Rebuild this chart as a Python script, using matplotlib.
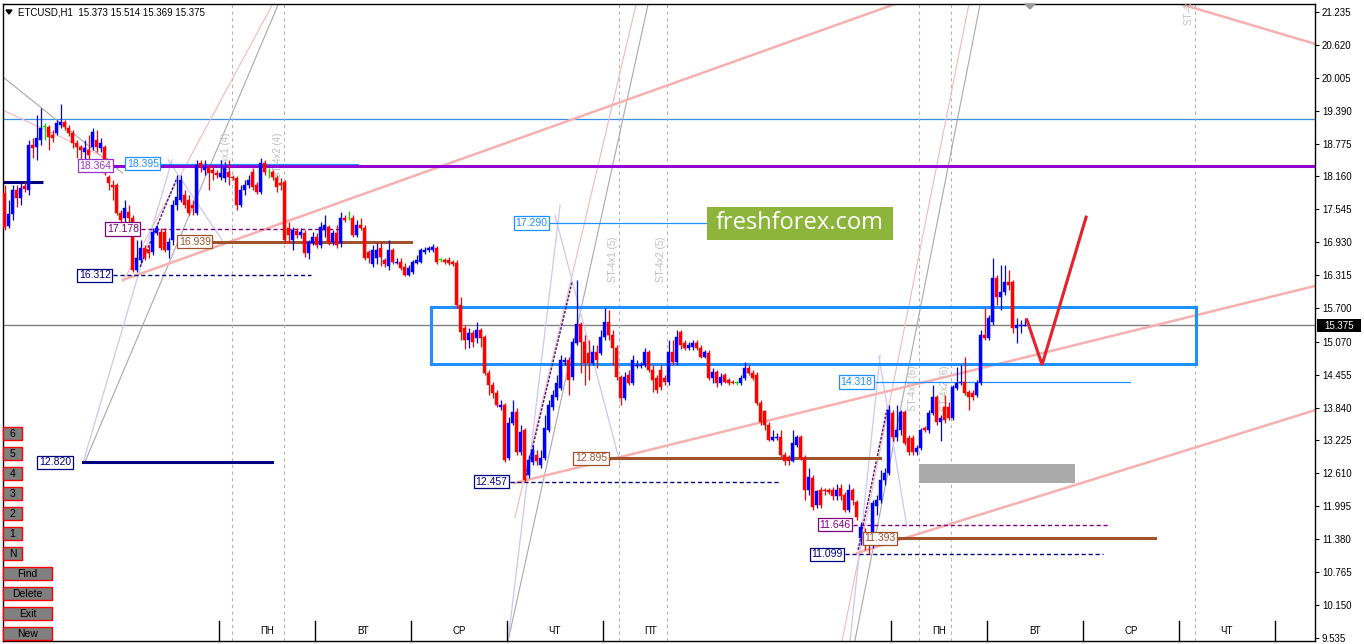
import numpy as np
import matplotlib
matplotlib.use("Agg")
import matplotlib.pyplot as plt
from matplotlib.patches import Rectangle, Polygon
import matplotlib.transforms as mtransforms

plt.rcParams['font.family'] = ['Liberation Sans', 'DejaVu Sans']

# ---- ETCUSD H1 bars ----
OPEN = [
    17.85, 17.24, 17.46, 17.91, 17.76, 17.98, 17.91, 18.75, 18.71, 18.84,
    19.09, 19.09, 18.93, 18.97, 19.12, 19.18, 19.07, 18.97, 18.78, 18.71,
    18.62, 18.66, 18.71, 18.84, 18.69, 18.71, 18.15, 18.00, 18.00, 17.48,
    17.38, 17.50, 17.38, 16.41, 16.60, 16.82, 16.79, 16.75, 17.10, 17.12,
    17.12, 16.79, 16.97, 17.63, 17.72, 17.81, 17.72, 17.63, 17.48, 18.41,
    18.28, 18.32, 18.28, 18.22, 18.15, 18.13, 18.24, 18.15, 18.13, 17.63,
    17.91, 18.00, 18.24, 18.00, 17.87, 18.41, 18.24, 18.24, 18.13, 18.03,
    18.05, 17.20, 16.97, 17.14, 17.07, 17.10, 16.73, 16.92, 17.03, 16.88,
    17.16, 17.22, 16.94, 17.10, 16.92, 17.38, 17.38, 17.38, 17.07, 17.25,
    17.20, 16.75, 16.53, 16.64, 16.82, 16.60, 16.49, 16.79, 16.54, 16.56,
    16.47, 16.32, 16.38, 16.54, 16.56, 16.75, 16.79, 16.79, 16.82, 16.60,
    16.60, 16.60, 16.56, 16.54, 15.76, 15.33, 15.10, 15.23, 15.14, 15.29,
    15.16, 14.49, 14.27, 14.11, 13.85, 13.89, 12.90, 13.55, 13.76, 13.01,
    13.42, 12.58, 12.82, 12.96, 12.77, 12.90, 13.42, 13.85, 14.04, 14.21,
    14.69, 14.73, 14.41, 15.05, 15.40, 15.06, 14.86, 14.67, 14.88, 14.86,
    15.16, 15.44, 15.20, 14.96, 14.41, 14.02, 14.45, 14.30, 14.62, 14.62,
    14.64, 14.88, 14.54, 14.39, 14.54, 14.39, 14.32, 14.88, 14.69, 15.25,
    15.05, 14.96, 14.98, 15.05, 14.96, 14.79, 14.86, 14.39, 14.51, 14.30,
    14.45, 14.36, 14.32, 14.30, 14.30, 14.39, 14.58, 14.49, 14.45, 13.93,
    13.78, 13.51, 13.23, 13.27, 13.29, 12.96, 12.92, 12.84, 13.14, 13.29,
    12.90, 12.30, 12.53, 12.02, 12.30, 12.30, 12.30, 12.30, 12.19, 12.34,
    12.21, 11.93, 12.30, 12.08, 11.40, 11.50, 11.42, 11.31, 12.00, 12.11,
    12.49, 12.62, 13.74, 13.29, 13.42, 13.76, 13.27, 13.27, 13.01, 13.08,
    13.46, 13.42, 13.74, 14.04, 13.57, 13.85, 13.85, 13.64, 14.21, 14.30,
    14.32, 14.13, 14.11, 14.08, 14.30, 15.20, 15.14, 15.44, 16.26, 15.91,
    16.00, 16.19, 16.19, 15.33, 15.36, 15.373,
]
HIGH = [
    18.00, 17.72, 18.00, 18.00, 18.03, 18.05, 18.84, 18.88, 19.31, 19.44,
    19.16, 19.12, 19.03, 19.22, 19.51, 19.22, 19.12, 19.03, 18.84, 18.75,
    18.84, 18.93, 19.07, 19.03, 18.88, 18.75, 18.19, 18.09, 18.03, 17.53,
    17.72, 17.63, 17.44, 16.97, 16.97, 16.88, 16.88, 17.20, 17.25, 17.20,
    17.20, 17.01, 17.72, 18.19, 18.19, 17.91, 17.81, 17.72, 18.47, 18.47,
    18.47, 18.37, 18.37, 18.28, 18.47, 18.43, 18.47, 18.19, 18.17, 18.00,
    18.09, 18.19, 18.32, 18.05, 18.51, 18.47, 18.32, 18.28, 18.19, 18.13,
    18.09, 17.31, 17.22, 17.20, 17.20, 17.16, 16.97, 17.12, 17.10, 17.31,
    17.44, 17.25, 17.16, 17.25, 17.50, 17.44, 17.51, 17.44, 17.35, 17.38,
    17.25, 16.79, 16.88, 16.92, 16.94, 16.64, 16.97, 16.82, 16.64, 16.64,
    16.54, 16.51, 16.60, 16.69, 16.82, 16.84, 16.86, 16.90, 16.86, 16.64,
    16.64, 16.66, 16.60, 16.60, 15.91, 15.38, 15.33, 15.29, 15.44, 15.33,
    15.20, 14.54, 14.32, 14.17, 13.98, 13.93, 13.66, 13.98, 13.83, 13.51,
    13.46, 12.96, 13.14, 13.05, 13.05, 13.70, 13.98, 14.17, 14.45, 14.82,
    14.79, 14.79, 15.14, 16.22, 15.44, 15.20, 15.10, 15.01, 15.01, 15.29,
    15.70, 15.66, 15.29, 15.01, 14.45, 14.51, 14.54, 14.82, 14.73, 14.69,
    14.96, 14.92, 14.64, 14.45, 14.64, 14.45, 15.10, 15.10, 15.29, 15.29,
    15.10, 15.06, 15.10, 15.10, 15.01, 14.92, 14.92, 14.58, 14.54, 14.49,
    14.49, 14.39, 14.36, 14.34, 14.45, 14.69, 14.64, 14.54, 14.51, 13.98,
    13.80, 13.57, 13.42, 13.36, 13.42, 13.01, 12.96, 13.42, 13.33, 13.33,
    12.96, 12.71, 12.58, 12.30, 12.36, 12.34, 12.34, 12.36, 12.41, 12.41,
    12.26, 12.41, 12.34, 12.11, 11.70, 11.59, 11.46, 12.11, 12.21, 12.68,
    12.71, 13.89, 13.80, 13.89, 13.80, 13.80, 13.33, 13.33, 13.14, 13.46,
    13.49, 13.80, 14.27, 14.08, 13.70, 14.08, 13.94, 14.27, 14.60, 14.64,
    14.79, 14.17, 14.17, 14.36, 15.29, 15.70, 15.57, 16.64, 16.32, 16.51,
    16.51, 16.41, 16.22, 15.51, 15.48, 15.514,
]
LOW = [
    17.16, 17.20, 17.35, 17.59, 17.63, 17.87, 17.81, 18.51, 18.47, 18.75,
    18.84, 18.66, 18.80, 18.93, 19.07, 19.03, 18.92, 18.69, 18.51, 18.47,
    18.47, 18.47, 18.66, 18.62, 18.62, 18.19, 17.91, 17.72, 17.44, 17.16,
    17.31, 17.31, 16.38, 16.38, 16.54, 16.60, 16.64, 16.69, 17.07, 16.79,
    16.75, 16.64, 16.88, 17.53, 17.68, 17.57, 17.44, 17.44, 17.44, 18.24,
    18.19, 17.91, 18.09, 18.13, 18.09, 18.05, 18.00, 18.09, 17.53, 17.59,
    17.81, 17.94, 17.91, 17.83, 17.83, 18.19, 18.13, 18.09, 17.87, 17.91,
    16.92, 16.92, 16.79, 17.01, 17.01, 16.66, 16.62, 16.88, 16.82, 16.82,
    17.03, 16.88, 16.88, 16.82, 16.84, 17.31, 17.35, 17.03, 17.03, 17.16,
    16.60, 16.54, 16.47, 16.53, 16.49, 16.47, 16.41, 16.53, 16.53, 16.41,
    16.30, 16.30, 16.34, 16.53, 16.54, 16.71, 16.75, 16.75, 16.53, 16.56,
    16.53, 16.51, 16.49, 15.70, 15.10, 14.94, 14.96, 14.98, 15.04, 14.98,
    14.45, 14.08, 14.02, 13.85, 13.80, 12.82, 12.86, 13.51, 12.96, 12.96,
    12.45, 12.53, 12.77, 12.77, 12.71, 12.86, 13.38, 13.80, 13.98, 14.17,
    14.64, 14.08, 14.36, 15.01, 14.49, 14.27, 14.36, 14.64, 14.58, 14.82,
    15.10, 15.10, 14.64, 14.36, 13.89, 13.98, 14.27, 14.27, 14.58, 14.58,
    14.60, 14.51, 14.13, 14.11, 14.17, 14.27, 14.27, 14.64, 14.64, 14.94,
    14.92, 14.92, 14.92, 14.92, 14.77, 14.77, 14.36, 14.30, 14.23, 14.27,
    14.30, 14.27, 14.28, 14.27, 14.27, 14.36, 14.45, 14.36, 13.89, 13.51,
    13.42, 13.21, 13.21, 13.23, 12.92, 12.77, 12.77, 12.82, 13.10, 12.86,
    12.11, 12.21, 11.93, 11.96, 11.96, 12.21, 12.23, 12.11, 12.11, 12.11,
    11.89, 11.89, 12.02, 11.74, 11.27, 11.18, 11.10, 11.22, 11.83, 12.06,
    12.40, 12.58, 13.21, 13.21, 13.33, 13.14, 12.96, 12.96, 12.96, 13.05,
    13.38, 13.36, 13.70, 13.51, 13.21, 13.55, 13.61, 13.61, 14.17, 14.27,
    14.08, 13.80, 13.98, 14.04, 14.27, 15.10, 15.10, 15.38, 15.76, 15.66,
    15.94, 16.04, 15.23, 15.05, 15.23, 15.369,
]
CLOSE = [
    17.22, 17.46, 17.91, 17.76, 17.94, 17.92, 18.75, 18.69, 18.88, 19.07,
    19.09, 18.90, 18.88, 19.16, 19.18, 19.09, 18.97, 18.78, 18.71, 18.66,
    18.69, 18.56, 18.99, 18.71, 18.78, 18.22, 18.03, 17.96, 17.48, 17.35,
    17.57, 17.38, 16.41, 16.64, 16.82, 16.66, 16.73, 17.12, 17.20, 16.82,
    16.79, 16.94, 17.63, 17.78, 18.09, 17.63, 17.48, 17.57, 18.37, 18.34,
    18.34, 18.22, 18.22, 18.19, 18.22, 18.32, 18.15, 18.13, 17.63, 17.91,
    18.00, 18.09, 17.96, 17.87, 18.41, 18.24, 18.24, 18.15, 17.96, 18.00,
    16.97, 17.07, 17.16, 17.07, 17.12, 16.73, 16.94, 17.03, 16.88, 17.22,
    17.25, 16.94, 17.10, 16.88, 17.38, 17.35, 17.38, 17.07, 17.25, 17.20,
    16.64, 16.64, 16.79, 16.79, 16.66, 16.53, 16.79, 16.56, 16.56, 16.45,
    16.32, 16.45, 16.56, 16.60, 16.79, 16.79, 16.82, 16.84, 16.56, 16.60,
    16.56, 16.54, 16.53, 15.76, 15.25, 15.10, 15.23, 15.06, 15.29, 15.14,
    14.49, 14.27, 14.11, 13.89, 13.89, 12.86, 13.55, 13.76, 13.01, 13.38,
    12.49, 12.86, 13.05, 12.84, 12.90, 13.46, 13.89, 14.08, 14.30, 14.73,
    14.73, 14.36, 15.06, 15.40, 15.06, 14.67, 14.67, 14.88, 14.73, 15.16,
    15.44, 15.20, 14.96, 14.41, 14.02, 14.41, 14.30, 14.73, 14.64, 14.64,
    14.88, 14.54, 14.36, 14.17, 14.23, 14.32, 14.88, 14.69, 15.16, 15.01,
    14.96, 15.01, 15.05, 14.96, 14.79, 14.88, 14.39, 14.51, 14.30, 14.41,
    14.32, 14.30, 14.30, 14.30, 14.39, 14.58, 14.49, 14.39, 13.93, 13.57,
    13.51, 13.23, 13.29, 13.29, 12.96, 12.84, 12.84, 13.18, 13.29, 12.90,
    12.30, 12.54, 11.98, 12.28, 12.02, 12.28, 12.26, 12.19, 12.30, 12.19,
    11.93, 12.30, 12.11, 11.80, 11.61, 11.27, 11.27, 12.06, 12.11, 12.49,
    12.62, 13.80, 13.29, 13.42, 13.76, 13.18, 13.01, 13.01, 13.08, 13.42,
    13.42, 13.74, 14.04, 13.57, 13.64, 13.61, 13.64, 14.23, 14.30, 14.32,
    14.11, 14.04, 14.04, 14.30, 15.20, 15.14, 15.51, 16.26, 15.91, 16.00,
    16.19, 16.13, 15.33, 15.38, 15.38, 15.375,
]

PRICE_TICKS = [21.235, 20.620, 20.005, 19.390, 18.775, 18.160, 17.545, 16.930,
               16.315, 15.700, 15.070, 14.455, 13.840, 13.225, 12.610, 11.995,
               11.380, 10.765, 10.150, 9.535]
DAY_LABELS = ['ПН', 'ВТ', 'СР', 'ЧТ', 'ПТ', 'ПН', 'ВТ', 'СР', 'ЧТ']
DAY_CENTERS = [65.6, 89.6, 113.6, 137.6, 161.6, 233.6, 257.6, 281.6, 305.6]
DAY_BOUNDS = [53.6, 77.6, 101.6, 125.6, 149.6, 221.6, 245.6, 269.6, 293.6, 317.6]

# fractal levels: (value, label centre bar, line start, line end, style)
LEVELS = [
    (18.364, 22.75, 27.1, 328.0, 'purple_thick'),
    (18.395, 34.6, 39.1, 88.4, 'blue'),
    (17.178, 29.6, 34.1, 83.9, 'purple'),
    (16.939, 47.6, 52.1, 101.6, 'brown'),
    (16.312, 22.6, 27.1, 76.6, 'navy_dash'),
    (12.820, 12.6, 19.6, 66.9, 'navy'),
    (17.290, 131.75, 136.4, 175.6, 'blue'),
    (12.457, 121.75, 126.4, 193.9, 'navy_dash'),
    (12.895, 146.6, 151.1, 218.9, 'brown'),
    (14.318, 213.0, 217.9, 281.4, 'blue'),
    (11.646, 207.6, 212.1, 276.4, 'purple'),
    (11.393, 218.9, 223.4, 287.6, 'brown'),
    (11.099, 205.6, 210.1, 274.6, 'navy_dash'),
]
ST_MARKS = [(56.9, 'ST-4x1 (4)', 18.56), (69.9, 'ST-4x2 (4)', 18.56),
            (153.6, 'ST-4x1 (5)', 16.62), (165.6, 'ST-4x2 (5)', 16.62),
            (228.6, 'ST-4x1 (6)', 14.21), (236.6, 'ST-4x2 (6)', 14.21),
            (297.6, 'ST-4x1 (7)', None)]

PINK_THICK = [((29.6, 16.225), (230.0, 21.58)), ((292.0, 21.43), (328.0, 20.63)),
              ((127.6, 12.43), (328.0, 16.12)), ((213.1, 11.12), (328.0, 13.80))]
GRAY_THIN = [((20.1, 12.82), (68.9, 21.46)), ((-0.4, 20.02), (29.6, 18.22)),
             ((125.9, 9.48), (160.9, 21.38)), ((212.6, 9.48), (243.9, 21.38))]
PINK_THIN = [((29.6, 16.19), (67.6, 21.46)), ((-0.4, 19.40), (26.4, 18.47)),
             ((127.6, 11.78), (157.9, 21.38)), ((209.4, 9.48), (241.1, 21.38))]
LAVENDER = [((19.6, 12.80), (41.9, 18.47)), ((40.9, 18.47), (54.4, 16.97)),
            ((125.9, 9.48), (138.9, 17.63)), ((137.6, 17.44), (153.9, 12.80)),
            ((211.4, 9.48), (218.9, 14.82)), ((218.6, 14.80), (225.6, 11.61))]
ZIGZAG = [((33.9, 16.47), (43.1, 18.13)), ((130.1, 12.49), (141.9, 16.19)),
          ((213.4, 11.18), (220.6, 13.80))]
FORECAST = [(255.6, 15.48), (259.4, 14.64), (270.4, 17.40)]

BULL, BEAR, DOJI = '#0000ff', '#ff0000', '#00e000'
STYLE = {
    'purple_thick': ('#9400d3', 2.2, '-'),
    'purple': ('#800080', 1.0, (0, (3, 2))),
    'blue': ('#1e90ff', 0.9, '-'),
    'brown': ('#a0522d', 2.2, '-'),
    'navy': ('#000080', 2.2, '-'),
    'navy_dash': ('#000080', 1.0, (0, (3, 2))),
}
BOX_COLOR = {'purple_thick': '#9932cc', 'purple': '#800080', 'blue': '#1e90ff',
             'brown': '#a0522d', 'navy': '#000080', 'navy_dash': '#000080'}

W, H = 1364, 644
fig = plt.figure(figsize=(W / 100, H / 100), dpi=100)
fig.patch.set_facecolor('white')
left, right, top, bottom = 3, 1315, 4, 641
ax = fig.add_axes([left / W, (H - bottom) / H, (right - left) / W, (bottom - top) / H])
ax.set_xlim(-0.375, 327.625)
ax.set_ylim(9.476, 21.384)
for s in ax.spines.values():
    s.set_color('black')
    s.set_linewidth(1)

# horizontal reference lines
ax.axhline(19.235, color='#3a8ee6', lw=0.9, zorder=1)
ax.axhline(CLOSE[-1], color='#808080', lw=1, zorder=1)
ax.hlines(18.06, -0.4, 9.6, color='#000080', lw=2.2, zorder=2)

# day separators (dashed)
for xb, txt, yc in ST_MARKS:
    ax.axvline(xb, color='#b4b4b4', lw=0.8, ls=(0, (3, 3)), zorder=1)
    if yc is None:
        ax.text(xb - 1.6, 20.99, txt, rotation=90, ha='center', va='bottom',
                fontsize=7, color='#c4c4c4', clip_on=True)
    else:
        ax.text(xb - 1.6, yc, txt, rotation=90, ha='center', va='center',
                fontsize=7, color='#bdbdbd')

# trend lines
for (a, b) in GRAY_THIN:
    ax.plot([a[0], b[0]], [a[1], b[1]], color='#a8a8a8', lw=0.8, zorder=1)
for (a, b) in PINK_THIN:
    ax.plot([a[0], b[0]], [a[1], b[1]], color='#f2b8c0', lw=0.8, zorder=1)
for (a, b) in LAVENDER:
    ax.plot([a[0], b[0]], [a[1], b[1]], color='#cdc6f2', lw=0.9, zorder=1)
for (a, b) in PINK_THICK:
    ax.plot([a[0], b[0]], [a[1], b[1]], color='#f7b0b0', lw=1.8, zorder=2)
for (a, b) in ZIGZAG:
    ax.plot([a[0], b[0]], [a[1], b[1]], color='#4b0f7a', lw=1.0,
            ls=(0, (2, 1)), zorder=4)

# zone boxes
ax.add_patch(Rectangle((106.6, 14.655), 191.3, 1.065, fill=False,
                       edgecolor='#1e90ff', lw=2.2, zorder=3))
ax.add_patch(Rectangle((228.6, 12.43), 39.0, 0.36, facecolor='#aaaaaa',
                       edgecolor='none', zorder=3))

# candles
o = np.array(OPEN)
h = np.array(HIGH)
l = np.array(LOW)
c = np.array(CLOSE)
idx = np.arange(len(c))
cols = np.where(c > o, BULL, np.where(c < o, BEAR, DOJI))
ax.vlines(idx, l, h, colors=cols, lw=0.9, zorder=5)
body = np.maximum(np.abs(c - o), 0.012)
ax.bar(idx, body, bottom=np.minimum(o, c), width=0.72, color=cols,
       edgecolor=cols, lw=0.3, zorder=6)

# level lines with price boxes
for val, xc, x0, x1, st in LEVELS:
    col, lw, ls = STYLE[st]
    ax.plot([x0, x1], [val, val], color=col, lw=lw, ls=ls, zorder=4)
    ax.text(xc, val, f'{val:.3f}', ha='center', va='center', fontsize=7.5,
            color=BOX_COLOR[st], zorder=8,
            bbox=dict(boxstyle='square,pad=0.15', fc='white',
                      ec=BOX_COLOR[st], lw=0.9))

# forecast arrow
fx, fy = zip(*FORECAST)
ax.plot(fx, fy, color='#e8202a', lw=2.2, zorder=7, solid_joinstyle='miter')

# right price scale
ax.yaxis.tick_right()
ax.set_yticks(PRICE_TICKS)
ax.set_yticklabels([f'{t:.3f}' for t in PRICE_TICKS], fontsize=7)
ax.tick_params(axis='y', length=3, width=0.8, pad=2, colors='black')
ax.set_xticks([])

# day labels at the bottom
trans = mtransforms.blended_transform_factory(ax.transData, ax.transAxes)
for xb in DAY_BOUNDS:
    ax.plot([xb, xb], [0, 0.031], transform=trans, color='black', lw=1,
            clip_on=False, zorder=9)
for xb, lab in zip(DAY_CENTERS, DAY_LABELS):
    ax.text(xb, 0.016, lab, transform=trans, ha='center', va='center',
            fontsize=7, color='black', zorder=9)

# overlay in pixel space for terminal widgets
ov = fig.add_axes([0, 0, 1, 1])
ov.set_xlim(0, W)
ov.set_ylim(H, 0)
ov.axis('off')
ov.patch.set_alpha(0)

ov.add_patch(Polygon([(6, 10), (12, 10), (9, 14)], closed=True, color='black'))
ov.text(18, 12, f'ETCUSD,H1  {OPEN[-1]:.3f} {HIGH[-1]:.3f} {LOW[-1]:.3f} {CLOSE[-1]:.3f}',
        fontsize=7, va='center', ha='left', color='black')
ov.add_patch(Polygon([(1025, 4), (1035, 4), (1030, 9)], closed=True, color='#9a9a9a'))

ov.add_patch(Rectangle((1317, 319), 44, 13, facecolor='black', edgecolor='none'))
ov.text(1339, 325.5, f'{CLOSE[-1]:.3f}', color='white', fontsize=7,
        ha='center', va='center')

ov.add_patch(Rectangle((707, 207), 186, 33, facecolor='#8db53c', edgecolor='none'))
ov.text(800, 223, 'freshforex.com', color='white', fontsize=17,
        ha='center', va='center', family=['Open Sans', 'DejaVu Sans'])

small_btns = ['6', '5', '4', '3', '2', '1', 'N']
for k, lab in enumerate(small_btns):
    y0 = 427 + 20 * k
    ov.add_patch(Rectangle((3, y0), 19, 13, facecolor='#808080', edgecolor='#ff0000', lw=1))
    ov.text(12.5, y0 + 6.8, lab, fontsize=7.5, ha='center', va='center', color='black')
wide_btns = ['Find', 'Delete', 'Exit', 'New']
for k, lab in enumerate(wide_btns):
    y0 = 567 + 20 * k
    ov.add_patch(Rectangle((3, y0), 49, 13, facecolor='#808080', edgecolor='#ff0000', lw=1))
    ov.text(27.5, y0 + 6.8, lab, fontsize=7.5, ha='center', va='center', color='black')

fig.savefig('out.png', dpi=100)
